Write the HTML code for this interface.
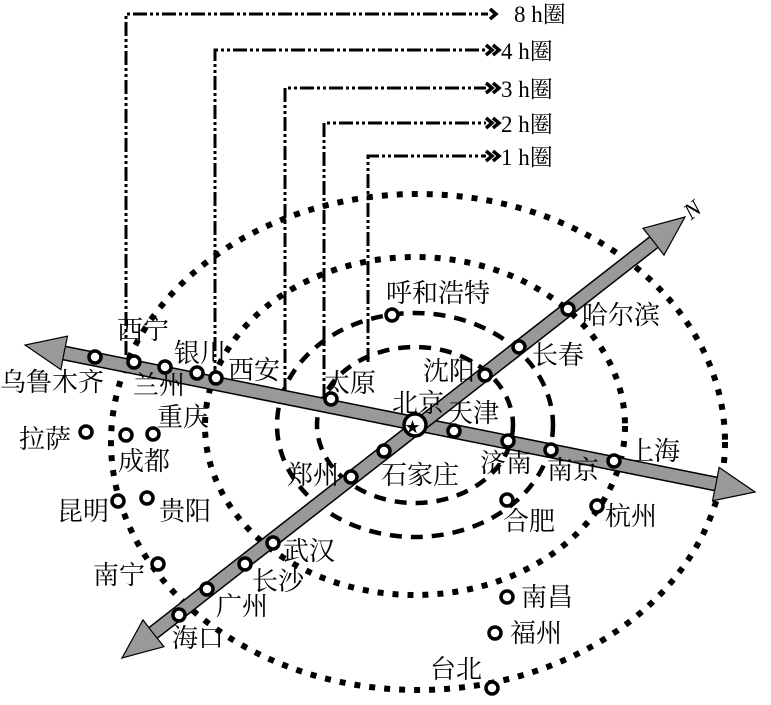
<!DOCTYPE html>
<html><head><meta charset="utf-8"><style>
body{margin:0;background:#fff}
svg text{font-family:"Liberation Serif","Noto Serif CJK SC",serif;font-size:26px;fill:#000}
svg text.h{font-size:23px}
</style></head><body>
<svg width="771" height="700" viewBox="0 0 771 700" xmlns="http://www.w3.org/2000/svg">
<g fill="none" stroke="#000">
<ellipse cx="418" cy="442" rx="307" ry="248" stroke-width="6" stroke-dasharray="6 9"/>
<ellipse cx="415" cy="426" rx="210" ry="169" stroke-width="6" stroke-dasharray="6 9"/>
<ellipse cx="415" cy="425" rx="138" ry="112" stroke-width="4.5" stroke-dasharray="12 9"/>
<ellipse cx="415" cy="425" rx="98" ry="78" stroke-width="4.5" stroke-dasharray="12 9"/>
</g>
<g fill="none" stroke="#000" stroke-width="3" stroke-dasharray="14 3 3 3 3 3">
<path d="M126 355 V14 H488"/>
<path d="M215 380 V50 H486"/>
<path d="M285 392 V88 H486"/>
<path d="M324 398 V123 H486"/>
<path d="M368 362 V156 H486"/>
</g>
<g fill="none" stroke="#000" stroke-width="3.5">
<path d="M490 9 L496 14 L490 19"/>
<path d="M486 45 L492 50 L486 55 M493 45 L499 50 L493 55"/>
<path d="M486 83 L492 88 L486 93 M493 83 L499 88 L493 93"/>
<path d="M486 118 L492 123 L486 128 M493 118 L499 123 L493 128"/>
<path d="M486 151 L492 156 L486 161 M493 151 L499 156 L493 161"/>
</g>
<text class="h" x="514" y="22">8 h圈</text>
<text class="h" x="501" y="59">4 h圈</text>
<text class="h" x="501" y="97">3 h圈</text>
<text class="h" x="501" y="132">2 h圈</text>
<text class="h" x="501" y="165">1 h圈</text>
<g stroke-linecap="butt">
<line x1="64" y1="353" x2="716" y2="484" stroke="#000" stroke-width="15"/>
<line x1="64" y1="353" x2="716" y2="484" stroke="#999" stroke-width="12"/>
<line x1="153" y1="633" x2="654" y2="242" stroke="#000" stroke-width="15"/>
<line x1="153" y1="633" x2="654" y2="242" stroke="#999" stroke-width="12"/>
</g>
<g fill="#999" stroke="#000" stroke-width="1.2">
<polygon points="755,492 712.5,500.8 716,484 719.1,467.4"/>
<polygon points="25,345 60.9,369.6 64,353 67.5,336.2"/>
<polygon points="685,217 664,255.1 654,242 643,228.3"/>
<polygon points="122,658 164,646.7 153,633 143,619.9"/>
</g>
<text class="h" x="684" y="216" transform="rotate(-38 694 208)" font-style="italic">N</text>
<g fill="#fff" stroke="#000" stroke-width="3.5">
<circle cx="95" cy="357" r="6"/><circle cx="134" cy="362" r="6"/><circle cx="165" cy="367" r="6"/>
<circle cx="197" cy="373" r="6"/><circle cx="216" cy="378" r="6"/><circle cx="331" cy="399" r="6"/>
<circle cx="454" cy="431" r="6"/><circle cx="508" cy="441" r="6"/><circle cx="551" cy="450" r="6"/>
<circle cx="614" cy="461" r="6"/><circle cx="485" cy="375" r="6"/><circle cx="519" cy="347" r="6"/>
<circle cx="568" cy="309" r="6"/><circle cx="392" cy="315" r="6"/><circle cx="384" cy="451" r="6"/>
<circle cx="351" cy="477" r="6"/><circle cx="273" cy="543" r="6"/><circle cx="245" cy="564" r="6"/>
<circle cx="207" cy="589" r="6"/><circle cx="179" cy="615" r="6"/><circle cx="86" cy="432" r="6"/>
<circle cx="126" cy="435" r="6"/><circle cx="153" cy="434" r="6"/><circle cx="118" cy="501" r="6"/>
<circle cx="147" cy="498" r="6"/><circle cx="158" cy="564" r="6"/><circle cx="507" cy="500" r="6"/>
<circle cx="597" cy="506" r="6"/><circle cx="507" cy="597" r="6"/><circle cx="495" cy="633" r="6"/>
<circle cx="492" cy="688" r="6"/>
<circle cx="415" cy="425" r="11"/>
</g>
<text x="405" y="432" style="font-size:15px">★</text>
<text x="117" y="339">西宁</text>
<text x="0" y="391">乌鲁木齐</text>
<text x="133" y="394">兰州</text>
<text x="174" y="362">银川</text>
<text x="228" y="379">西安</text>
<text x="157" y="426">重庆</text>
<text x="19" y="448">拉萨</text>
<text x="118" y="470">成都</text>
<text x="57" y="520">昆明</text>
<text x="159" y="520">贵阳</text>
<text x="93" y="584">南宁</text>
<text x="172" y="647">海口</text>
<text x="216" y="615">广州</text>
<text x="252" y="590">长沙</text>
<text x="283" y="560">武汉</text>
<text x="287" y="484">郑州</text>
<text x="381" y="484">石家庄</text>
<text x="324" y="392">太原</text>
<text x="392" y="412">北京</text>
<text x="447" y="422">天津</text>
<text x="423" y="380">沈阳</text>
<text x="532" y="364">长春</text>
<text x="582" y="324">哈尔滨</text>
<text x="386" y="302">呼和浩特</text>
<text x="480" y="472">济南</text>
<text x="547" y="479">南京</text>
<text x="628" y="460">上海</text>
<text x="503" y="530">合肥</text>
<text x="605" y="525">杭州</text>
<text x="521" y="606">南昌</text>
<text x="510" y="642">福州</text>
<text x="430" y="678">台北</text>
</svg>
</body></html>
